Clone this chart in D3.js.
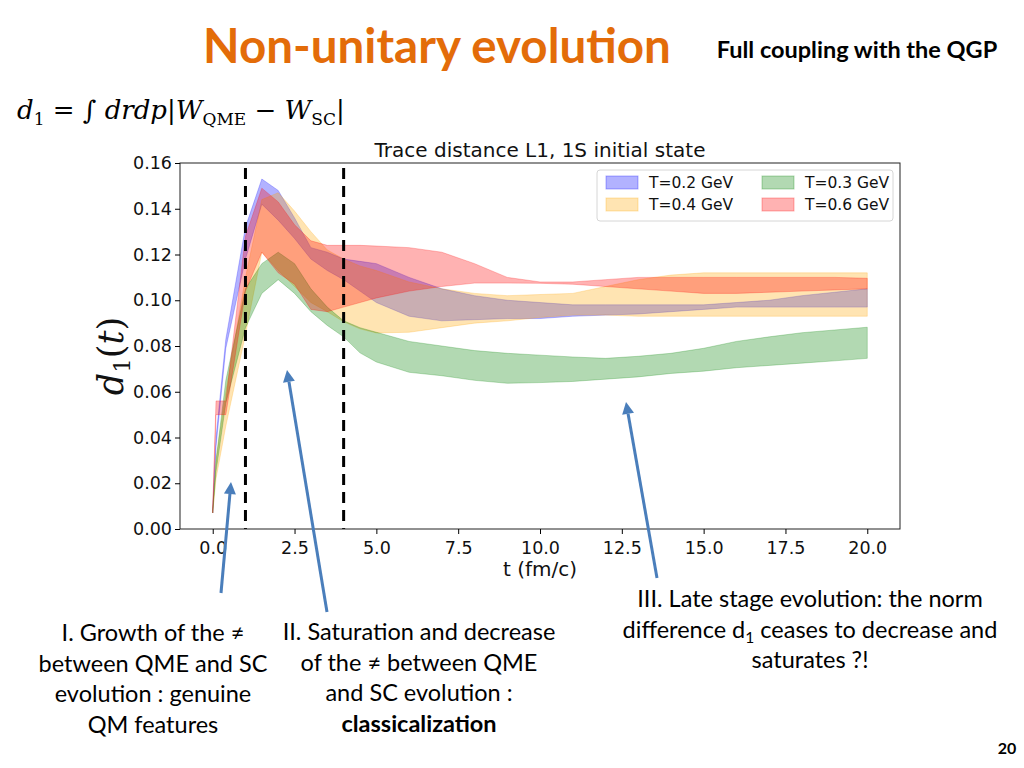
<!DOCTYPE html>
<html><head><meta charset="utf-8">
<script src="https://cdn.jsdelivr.net/npm/d3@7"></script>
<style>
html,body{margin:0;padding:0;background:#fff;}
svg{display:block;}
</style></head>
<body>
<svg id="chart" width="1024" height="768"></svg>
<script>
// ---------- data ----------
const times = [0,0.1,0.4,1,1.5,2,2.5,3,3.5,4,4.5,5,6,7,8,9,10,11,12,13,14,15,16,17,18,19,20];

const t02Lower = [0.007,0.036,0.079,0.118,0.142,0.135,0.127,0.118,0.113,0.109,0.104,0.099,0.093,0.091,0.0915,0.092,0.092,0.093,0.0935,0.094,0.095,0.096,0.097,0.097,0.097,0.097,0.097];
const t02Upper = [0.008,0.040,0.083,0.132,0.153,0.148,0.136,0.123,0.121,0.118,0.117,0.116,0.110,0.105,0.102,0.100,0.099,0.098,0.098,0.098,0.098,0.098,0.099,0.100,0.102,0.1035,0.105];

const t04Lower = [0.007,0.022,0.045,0.085,0.121,0.113,0.106,0.099,0.095,0.0906,0.0875,0.0857,0.086,0.088,0.090,0.091,0.0925,0.0935,0.0935,0.093,0.093,0.093,0.093,0.093,0.093,0.093,0.093];
const t04Upper = [0.009,0.030,0.060,0.110,0.144,0.147,0.139,0.130,0.122,0.118,0.115,0.113,0.108,0.105,0.103,0.102,0.1025,0.103,0.106,0.109,0.111,0.112,0.112,0.112,0.112,0.112,0.112];

const t03Lower = [0.007,0.025,0.055,0.088,0.103,0.109,0.103,0.095,0.089,0.084,0.077,0.073,0.0685,0.067,0.065,0.0637,0.064,0.0645,0.0655,0.0665,0.068,0.069,0.0705,0.0715,0.0725,0.0735,0.0746];
const t03Upper = [0.008,0.030,0.065,0.105,0.116,0.121,0.116,0.105,0.097,0.091,0.088,0.086,0.082,0.080,0.078,0.0768,0.076,0.0752,0.0746,0.0755,0.0768,0.079,0.082,0.084,0.0858,0.087,0.0882];

const t06Lower = [0.007,0.050,0.050,0.104,0.121,0.112,0.107,0.096,0.095,0.097,0.099,0.101,0.104,0.106,0.1075,0.1075,0.1074,0.107,0.106,0.105,0.104,0.103,0.103,0.1035,0.104,0.1045,0.105];
const t06Upper = [0.009,0.056,0.056,0.128,0.149,0.143,0.133,0.126,0.124,0.124,0.124,0.1237,0.123,0.121,0.116,0.110,0.108,0.108,0.109,0.110,0.110,0.110,0.110,0.110,0.110,0.110,0.1096];

const seriesNames = ["T=0.2 GeV","T=0.4 GeV","T=0.3 GeV","T=0.6 GeV"];
const seriesColors = ["#0000ff","#ffa500","#008000","#ff0000"];
const seriesLower = [t02Lower,t04Lower,t03Lower,t06Lower];
const seriesUpper = [t02Upper,t04Upper,t03Upper,t06Upper];

const xTicks = [0,2.5,5,7.5,10,12.5,15,17.5,20];
const yTicks = [0,0.02,0.04,0.06,0.08,0.10,0.12,0.14,0.16];
const dashedTimes = [1,4];

// ---------- drawing ----------
const svg = d3.select("#chart");
const x = d3.scaleLinear().domain([-1,21]).range([180,900]);
const y = d3.scaleLinear().domain([0,0.16]).range([529,163]);

const TICKFONT = "DejaVu Sans, sans-serif";
const SLIDEFONT = "Lato, 'Open Sans', sans-serif";

// title
svg.append("text").attr("x",437).attr("y",63).attr("text-anchor","middle")
  .attr("font-family",SLIDEFONT).attr("font-weight","bold").attr("font-size",47.5)
  .attr("fill","#E36C09").text("Non-unitary evolution");
svg.append("text").attr("x",857).attr("y",58).attr("text-anchor","middle")
  .attr("font-family",SLIDEFONT).attr("font-weight","bold").attr("font-size",23.5)
  .attr("fill","#000").text("Full coupling with the QGP");

// formula
const f = svg.append("text").attr("x",17).attr("y",119)
  .attr("font-family","'DejaVu Serif', 'Liberation Serif', serif").attr("font-size",26).attr("fill","#000");
f.append("tspan").attr("font-style","italic").text("d");
f.append("tspan").attr("font-size",17).attr("dy",6).text("1");
f.append("tspan").attr("dy",-6).text(" = ");
f.append("tspan").text("\u222B ");
f.append("tspan").attr("font-style","italic").text("drdp");
f.append("tspan").text("|");
f.append("tspan").attr("font-style","italic").text("W");
f.append("tspan").attr("font-size",17).attr("dy",6).text("QME");
f.append("tspan").attr("dy",-6).text(" \u2212 ");
f.append("tspan").attr("font-style","italic").text("W");
f.append("tspan").attr("font-size",17).attr("dy",6).text("SC");
f.append("tspan").attr("dy",-6).text("|");

// chart title
svg.append("text").attr("x",540).attr("y",157).attr("text-anchor","middle")
  .attr("font-family",TICKFONT).attr("font-size",20).attr("fill","#111")
  .text("Trace distance L1, 1S initial state");

// bands
const area = d3.area().x((d,i)=>x(times[i])).y0(d=>y(d[0])).y1(d=>y(d[1]));
const plot = svg.append("g");
seriesNames.forEach((name,k)=>{
  const pts = times.map((t,i)=>[seriesLower[k][i],seriesUpper[k][i]]);
  plot.append("path").datum(pts).attr("d",area)
    .attr("fill",seriesColors[k]).attr("fill-opacity",0.3)
    .attr("stroke",seriesColors[k]).attr("stroke-opacity",0.3).attr("stroke-width",0.8);
});

// dashed lines
dashedTimes.forEach(t=>{
  svg.append("line").attr("x1",x(t)).attr("x2",x(t)).attr("y1",168).attr("y2",529)
    .attr("stroke","#000").attr("stroke-width",3).attr("stroke-dasharray","11,7");
});

// frame
svg.append("rect").attr("x",180).attr("y",163).attr("width",720).attr("height",366)
  .attr("fill","none").attr("stroke","#222").attr("stroke-width",1);

// axes
const xAxis = d3.axisBottom(x).tickValues(xTicks).tickFormat(d3.format(".1f")).tickSizeOuter(0).tickSize(5);
const gx = svg.append("g").attr("transform","translate(0,529)").call(xAxis);
gx.select(".domain").remove();
gx.selectAll("text").attr("font-family",TICKFONT).attr("font-size",17.5).attr("fill","#111").attr("dy","0.95em");
const yAxis = d3.axisLeft(y).tickValues(yTicks).tickFormat(d3.format(".2f")).tickSizeOuter(0).tickSize(5);
const gy = svg.append("g").attr("transform","translate(180,0)").call(yAxis);
gy.select(".domain").remove();
gy.selectAll("text").attr("font-family",TICKFONT).attr("font-size",17.5).attr("fill","#111");

svg.append("text").attr("x",540).attr("y",576).attr("text-anchor","middle")
  .attr("font-family",TICKFONT).attr("font-size",20).attr("fill","#111").text("t (fm/c)");

// y label
const yl = svg.append("text").attr("transform","translate(123,356) rotate(-90)").attr("text-anchor","middle")
  .attr("font-family","'DejaVu Serif', 'Liberation Serif', serif").attr("font-size",35).attr("fill","#111");
yl.append("tspan").attr("font-style","italic").text("d");
yl.append("tspan").attr("font-size",23).attr("dy",7).text("1");
yl.append("tspan").attr("dy",-7).text("(");
yl.append("tspan").attr("font-style","italic").text("t");
yl.append("tspan").text(")");

// legend
const lg = svg.append("g");
lg.append("rect").attr("x",597).attr("y",170).attr("width",296).attr("height",51).attr("rx",3)
  .attr("fill","#fff").attr("fill-opacity",0.85).attr("stroke","#d6d6d6");
const legPos = [[606,176],[606,198],[762,176],[762,198]];
seriesNames.forEach((name,k)=>{
  const [lx,ly] = legPos[k];
  lg.append("rect").attr("x",lx).attr("y",ly).attr("width",32).attr("height",13)
    .attr("fill",seriesColors[k]).attr("fill-opacity",0.3).attr("stroke",seriesColors[k]).attr("stroke-opacity",0.3);
  lg.append("text").attr("x",lx+43).attr("y",ly+12).attr("font-family",TICKFONT).attr("font-size",15.5)
    .attr("fill","#111").text(name);
});

// arrows
const arrows = [[221,593,231,482],[327,612,287,370],[657,578,626,402]];
arrows.forEach(([x1,y1,x2,y2])=>{
  const ang = Math.atan2(y2-y1,x2-x1);
  const L = 12, W = 6;
  const bx = x2 - L*Math.cos(ang), by = y2 - L*Math.sin(ang);
  svg.append("line").attr("x1",x1).attr("y1",y1).attr("x2",bx).attr("y2",by)
    .attr("stroke","#4A7EBB").attr("stroke-width",3);
  const p = [[x2,y2],[bx+W*Math.sin(ang),by-W*Math.cos(ang)],[bx-W*Math.sin(ang),by+W*Math.cos(ang)]];
  svg.append("polygon").attr("points",p.map(q=>q.join(",")).join(" ")).attr("fill","#4A7EBB");
});

// annotations
function block(cx, y0, lines){
  lines.forEach((ln,i)=>{
    const t = svg.append("text").attr("x",cx).attr("y",y0+i*30.5).attr("text-anchor","middle")
      .attr("font-family",SLIDEFONT).attr("font-size",23.5).attr("fill","#000");
    if (ln.bold) t.attr("font-weight","bold");
    if (ln.parts){
      ln.parts.forEach(p=>{ const s=t.append("tspan").text(p.t); if(p.sub){s.attr("font-size",15.5).attr("dy",5);} if(p.up){s.attr("dy",-5);} });
    } else t.text(ln.t);
  });
}
block(153,641,[{t:"I. Growth of the \u2260"},{t:"between QME and SC"},{t:"evolution : genuine"},{t:"QM features"}]);
block(419,640,[{t:"II. Saturation and decrease"},{t:"of the \u2260 between QME"},{t:"and SC evolution :"},{t:"classicalization",bold:true}]);
block(810,607,[{t:"III. Late stage evolution: the norm"},{parts:[{t:"difference d"},{t:"1",sub:true},{t:" ceases to decrease and",up:true}]},{t:"saturates ?!"}]);

svg.append("text").attr("x",1007).attr("y",754).attr("text-anchor","middle")
  .attr("font-family",SLIDEFONT).attr("font-weight","bold").attr("font-size",16).attr("fill","#000").text("20");
</script>
</body></html>
